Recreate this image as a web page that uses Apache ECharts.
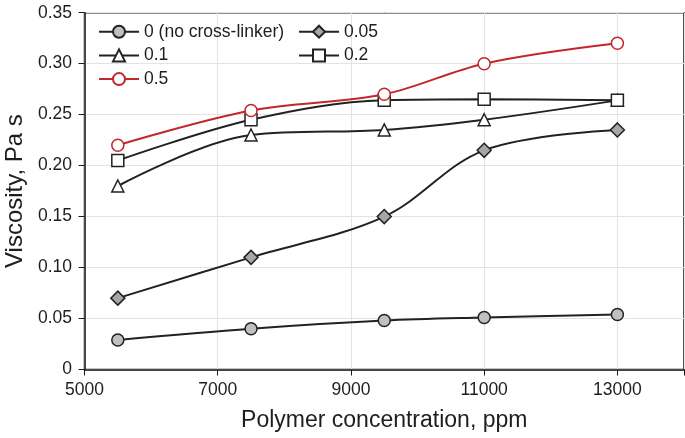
<!DOCTYPE html>
<html>
<head>
<meta charset="utf-8">
<script src="https://cdn.jsdelivr.net/npm/echarts@6/dist/echarts.min.js"></script>
<style>html,body{margin:0;padding:0;background:#fff}#c{width:685px;height:438px}</style>
</head>
<body>
<div id="c"></div>
<script>
var concentrations = [5500, 7500, 9500, 11000, 13000];
var seriesNames = ['0 (no cross-linker)', '0.05', '0.1', '0.2', '0.5'];
var v0 = [0.029, 0.040, 0.048, 0.051, 0.054];
var v005 = [0.070, 0.110, 0.150, 0.215, 0.235];
var v01 = [0.180, 0.230, 0.235, 0.245, 0.264];
var v02 = [0.205, 0.245, 0.264, 0.265, 0.264];
var v05 = [0.220, 0.254, 0.270, 0.300, 0.320];
var xTickLabels = ['5000', '7000', '9000', '11000', '13000'];
var xOffset = 5000;

function pts(vals) {
  return concentrations.map(function (c, i) { return [c - xOffset, vals[i]]; });
}
function mk(name, vals, symbol, fill, line, size) {
  return {
    name: name, type: 'line', smooth: 0.35, data: pts(vals),
    symbol: symbol, symbolSize: size,
    lineStyle: { color: line, width: 2 },
    itemStyle: { color: fill, borderColor: line, borderWidth: 1.5 },
    emphasis: { disabled: true }
  };
}
var chart = echarts.init(document.getElementById('c'), null, { renderer: 'canvas' });
var txt = { fontFamily: 'Liberation Sans, Arial, sans-serif', color: '#1e1e1e' };
var legTxt = Object.assign({ fontSize: 17.5, lineHeight: 18 }, txt);
chart.setOption({
  animation: false,
  grid: { left: 84.5, top: 12.7, right: 1, bottom: 68.5, show: true, borderColor: '#1a1a1a', borderWidth: 1.5,
          backgroundColor: 'transparent', containLabel: false, outerBoundsMode: 'none' },
  legend: [
    { data: [seriesNames[0], seriesNames[2], seriesNames[4]], orient: 'vertical', left: 98, top: 22.7,
      itemWidth: 40, itemHeight: 15, itemGap: 5.7, padding: 0, textStyle: legTxt },
    { data: [seriesNames[1], seriesNames[3]], orient: 'vertical', left: 298, top: 22.7,
      itemWidth: 40, itemHeight: 15, itemGap: 5.7, padding: 0, textStyle: legTxt }
  ],
  xAxis: {
    type: 'value', min: 0, max: 9000, interval: 2000,
    name: 'Polymer concentration, ppm', nameLocation: 'middle', nameGap: 40,
    nameTextStyle: Object.assign({ fontSize: 23 }, txt),
    axisLine: { show: true, lineStyle: { color: '#1a1a1a', width: 1.5 } },
    axisTick: { show: true, length: 6, lineStyle: { color: '#1a1a1a' } },
    axisLabel: Object.assign({ fontSize: 17.5, margin: 12, formatter: function (v) {
      var idx = Math.round(v / 2000);
      return (v % 2000 === 0 && idx < xTickLabels.length) ? xTickLabels[idx] : '';
    } }, txt),
    splitLine: { show: true, lineStyle: { color: '#e3e3e3', width: 1 } }
  },
  yAxis: {
    type: 'value', min: 0, max: 0.35, interval: 0.05,
    name: 'Viscosity, Pa s', nameLocation: 'middle', nameGap: 57.5,
    nameTextStyle: Object.assign({ fontSize: 24 }, txt),
    axisLine: { show: true, lineStyle: { color: '#1a1a1a', width: 1.5 } },
    axisTick: { show: true, length: 6, lineStyle: { color: '#1a1a1a' } },
    axisLabel: Object.assign({ fontSize: 17.5, margin: 12.5, formatter: function (v) {
      return v === 0 ? '0' : v.toFixed(2);
    } }, txt),
    splitLine: { show: true, lineStyle: { color: '#e3e3e3', width: 1 } }
  },
  series: [
    mk(seriesNames[0], v0, 'circle', '#c0c0c0', '#222', 12),
    mk(seriesNames[1], v005, 'diamond', '#a6a6a6', '#222', 14),
    mk(seriesNames[2], v01, 'triangle', '#ffffff', '#222', 12),
    mk(seriesNames[3], v02, 'rect', '#ffffff', '#222', 12),
    mk(seriesNames[4], v05, 'circle', '#ffffff', '#c1272d', 12)
  ]
});
</script>
</body>
</html>
